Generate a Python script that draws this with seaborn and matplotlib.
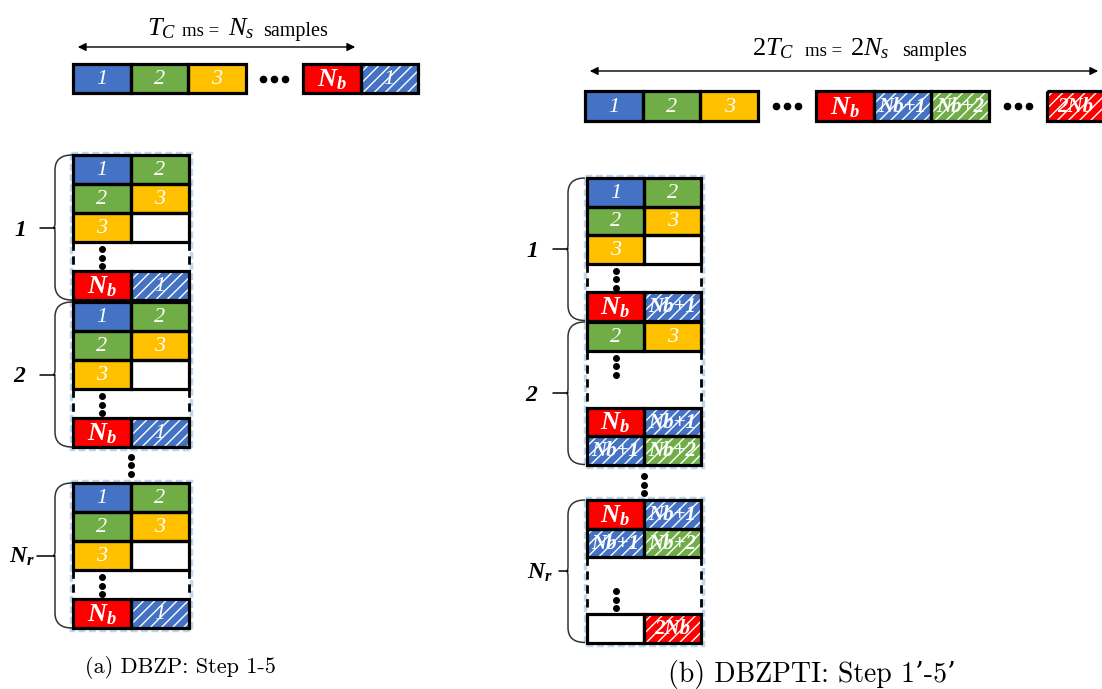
import matplotlib
matplotlib.use("Agg")
import matplotlib.pyplot as plt
import seaborn as sns
from matplotlib.patches import Rectangle, PathPatch
from matplotlib.path import Path

# cell fill colours (Office palette)
cell_colors = {"1": "#4472C4", "2": "#70AD47", "3": "#FFC000", "Nb": "#FF0000",
               "Nb+1": "#4472C4", "Nb+2": "#70AD47", "2Nb": "#FF0000"}

# top bars: "..." is an ellipsis slot, a trailing * means hatched (next period)
top_left = ["1", "2", "3", "...", "Nb", "1*"]
top_right = ["1", "2", "3", "...", "Nb", "Nb+1*", "Nb+2*", "...", "2Nb*"]

# stacked blocks, one tuple per row; "gap" rows hold vertical dots
left_groups = [
    [("1", "2"), ("2", "3"), ("3", ""), "gap", ("Nb", "1*")],
    [("1", "2"), ("2", "3"), ("3", ""), "gap", ("Nb", "1*")],
    [("1", "2"), ("2", "3"), ("3", ""), "gap", ("Nb", "1*")],
]
right_groups = [
    [("1", "2"), ("2", "3"), ("3", ""), "gap", ("Nb", "Nb+1*")],
    [("2", "3"), "gap2", ("Nb", "Nb+1*"), ("Nb+1*", "Nb+2*")],
    [("Nb", "Nb+1*"), ("Nb+1*", "Nb+2*"), "gap2b", ("", "2Nb*")],
]
group_names = [r"$\mathbf{1}$", r"$\mathbf{2}$", r"$\mathbf{N_r}$"]
captions = ["(a) DBZP: Step 1-5", "(b) DBZPTI: Step 1\u2019-5\u2019"]

sns.set_style("white")
plt.rcParams["text.color"] = "black"
plt.rcParams["mathtext.fontset"] = "custom"
plt.rcParams["mathtext.rm"] = "Liberation Serif"
plt.rcParams["mathtext.it"] = "Liberation Serif:italic"
plt.rcParams["mathtext.bf"] = "Liberation Serif:italic:bold"
plt.rcParams["hatch.linewidth"] = 1.0

fig = plt.figure(figsize=(11.02, 6.89), dpi=100)
ax = fig.add_axes([0, 0, 1, 1])
ax.set_xlim(0, 1102)
ax.set_ylim(689, 0)
ax.axis("off")


def cell_label(name):
    if name == "Nb":
        return r"$\mathbf{N_b}$", dict(fontsize=19)
    if name in ("1", "2", "3"):
        return name, dict(fontsize=16, fontstyle="italic", family="Liberation Serif")
    return name, dict(fontsize=15, fontstyle="italic", fontweight="bold", family="Liberation Serif")


def draw_cell(x, y, w, h, key):
    hatched = key.endswith("*")
    name = key.rstrip("*")
    if name:
        ax.add_patch(Rectangle((x, y), w, h, facecolor=cell_colors[name],
                               edgecolor="white" if hatched else "none",
                               hatch="///" if hatched else None, lw=0, zorder=2))
        txt, kw = cell_label(name)
        ax.text(x + w / 2, y + h / 2 + 1, txt, color="white", ha="center", va="center",
                zorder=5, **kw)
    ax.add_patch(Rectangle((x, y), w, h, fill=False, edgecolor="black", lw=2.3, zorder=4))


def vdots(x, y0, step=8.5):
    ax.plot([x] * 3, [y0, y0 + step, y0 + 2 * step], "o", color="black", ms=4, zorder=5)


def draw_bar(keys, x0, y, w, h):
    for i, k in enumerate(keys):
        x = x0 + i * w
        if k == "...":
            ax.plot([x + w / 2 - 11, x + w / 2, x + w / 2 + 11], [y + h / 2] * 3, "o",
                    color="black", ms=4.5)
        else:
            draw_cell(x, y, w, h, k)


def draw_group(rows, x0, top, w, h):
    y = top
    for r in rows:
        if isinstance(r, str):
            n = 1 if r == "gap" else 2
            gh = n * h
            for xx in (x0, x0 + 2 * w):
                ax.plot([xx, xx], [y, y + gh], color="black", lw=2, ls=(0, (3, 2)), zorder=3)
            if r == "gap2b":
                vdots(x0 + w / 2, y + gh - 23)
            else:
                vdots(x0 + w / 2, y + 7)
            y += gh
        else:
            draw_cell(x0, y, w, h, r[0])
            draw_cell(x0 + w, y, w, h, r[1])
            y += h
    # faint blue glow round the block
    ax.add_patch(Rectangle((x0 - 2, top - 2), 2 * w + 4, y - top + 4, fill=False,
                           edgecolor="#bdd7ee", lw=2.5, ls=(0, (2, 1)), zorder=1))
    return y


def draw_brace(xe, x0, ytop, ybot, name, xl, xt):
    r, r2, t = 15, 5, 1.5
    ym = (ytop + ybot) / 2
    verts = [(xe, ytop), (x0, ytop), (x0, ytop + r), (x0, ym - r2), (x0, ym), (x0 - t, ym),
             (x0, ym), (x0, ym + r2), (x0, ybot - r), (x0, ybot), (xe, ybot)]
    codes = [Path.MOVETO, Path.CURVE3, Path.CURVE3, Path.LINETO, Path.CURVE3, Path.CURVE3,
             Path.CURVE3, Path.CURVE3, Path.LINETO, Path.CURVE3, Path.CURVE3]
    ax.add_patch(PathPatch(Path(verts, codes), fill=False, edgecolor="#333333", lw=1.1))
    ax.plot([xl, x0], [ym, ym], color="black", lw=1.1)
    ax.text(xt, ym + 1, name, fontsize=17, ha="center", va="center")


# top arrows and headings
ax.annotate("", xy=(75, 47), xytext=(358, 47),
            arrowprops=dict(arrowstyle="<|-|>", color="black", lw=1, mutation_scale=12))
ax.annotate("", xy=(587, 71), xytext=(1101, 71),
            arrowprops=dict(arrowstyle="<|-|>", color="black", lw=1, mutation_scale=12))
ax.text(147, 35, r"$T_C$", fontsize=19, va="baseline")
ax.text(182, 36, "ms =", fontsize=13.5, va="baseline", family="Liberation Serif")
ax.text(228, 35, r"$N_s$", fontsize=19, va="baseline")
ax.text(263, 36, "samples", fontsize=14.5, va="baseline", family="Liberation Serif")
ax.text(752, 55, r"$\mathit{2}T_C$", fontsize=19, va="baseline")
ax.text(805, 56, "ms =", fontsize=13.5, va="baseline", family="Liberation Serif")
ax.text(850, 55, r"$\mathit{2}N_s$", fontsize=19, va="baseline")
ax.text(902, 56, "samples", fontsize=14.5, va="baseline", family="Liberation Serif")

draw_bar(top_left, 73, 64, 57.5, 29)
draw_bar(top_right, 585, 91, 57.7, 30)

# left stacks (a)
left_tops = [155, 302, 483]
left_bottoms = []
for rows, top in zip(left_groups, left_tops):
    left_bottoms.append(draw_group(rows, 73, top, 58, 29))
for i, (top, bot) in enumerate(zip(left_tops, left_bottoms)):
    if i == 2:
        draw_brace(72, 55, top, bot, group_names[i], 37, 22)
    else:
        draw_brace(72, 55, top, bot, group_names[i], 40, 20)
vdots(131, (left_bottoms[1] + left_tops[2]) / 2 - 8.5)

# right stacks (b)
right_tops = [178, 322, 500]
right_bottoms = []
for rows, top in zip(right_groups, right_tops):
    right_bottoms.append(draw_group(rows, 587, top, 57, 28.5))
for i, (top, bot) in enumerate(zip(right_tops, right_bottoms)):
    if i == 2:
        draw_brace(585, 568, top, bot, group_names[i], 559, 540)
    else:
        draw_brace(585, 568, top, bot, group_names[i], 553, 532)
vdots(644, (right_bottoms[1] + right_tops[2]) / 2 - 6)

ax.text(85, 673, captions[0], fontsize=16, va="baseline", family=["cmr10", "DejaVu Serif"])
ax.text(668, 682, captions[1], fontsize=20, va="baseline", family=["cmr10", "DejaVu Serif"])

fig.savefig("out.png", dpi=100)
